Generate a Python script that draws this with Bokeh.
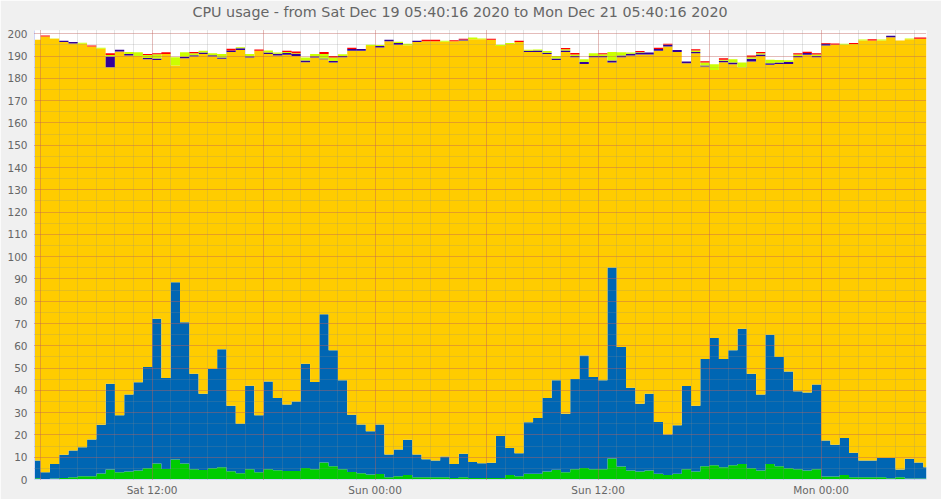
import numpy as np
import pandas as pd
from bokeh.plotting import figure
from bokeh.models import Range1d, FixedTicker, SingleIntervalTicker, Grid, Title
from bokeh.embed import file_html
from bokeh.resources import INLINE

title_text = "CPU usage - from Sat Dec 19 05:40:16 2020 to Mon Dec 21 05:40:16 2020"
start = pd.Timestamp("2020-12-19 05:40:16")
end = pd.Timestamp("2020-12-21 05:40:16")

# 30-minute samples (first and last are partial bins)
system = [0.6, 0.2, 0.5, 0.7, 1.0, 1.5, 1.5, 2.7, 4.5, 3.2, 3.6, 4.0, 5.1, 7.2, 4.7, 9.0, 7.2, 4.6, 4.3, 5.0,
          5.5, 3.7, 2.8, 4.6, 3.3, 4.6, 4.2, 3.8, 3.8, 5.2, 4.6, 7.6, 6.0, 4.6, 3.4, 2.8, 2.2, 2.5, 1.0, 1.5,
          2.0, 1.0, 1.0, 1.0, 1.0, 0.7, 1.0, 0.7, 0.7, 0.7, 0.7, 2.0, 1.5, 2.6, 2.6, 3.6, 4.4, 3.3, 4.6, 5.2,
          4.6, 4.6, 9.4, 5.8, 4.0, 3.6, 4.0, 2.6, 2.0, 2.6, 4.6, 3.6, 6.0, 6.4, 5.5, 6.4, 6.9, 5.0, 4.0, 6.9,
          6.0, 5.0, 4.6, 4.0, 4.6, 1.4, 1.4, 2.0, 1.0, 1.0, 1.0, 1.0, 0.6, 1.0, 0.4, 0.4, 0.4]
user = [7.9, 3.1, 6.5, 10.4, 12.0, 13.0, 16.5, 21.9, 38.5, 25.6, 34.5, 39.6, 45.4, 64.9, 40.8, 79.5, 63.4, 42.9, 34.2, 44.6,
        52.9, 29.4, 22.2, 37.5, 25.5, 39.4, 32.4, 29.9, 31.2, 46.8, 39.1, 66.6, 52.0, 39.9, 25.7, 21.9, 19.5, 22.2, 10.2, 12.0,
        15.8, 10.2, 8.1, 7.5, 9.3, 6.3, 10.5, 7.1, 6.6, 6.8, 18.8, 12.1, 10.3, 23.1, 25.0, 33.0, 40.1, 26.2, 40.5, 50.4,
        41.4, 39.9, 85.7, 53.7, 37.2, 30.4, 34.5, 23.2, 18.2, 21.7, 37.4, 29.5, 48.1, 57.1, 48.6, 51.6, 60.7, 42.5, 34.1, 58.1,
        49.0, 43.5, 35.0, 35.0, 38.0, 16.1, 14.2, 16.6, 11.0, 7.5, 7.5, 8.7, 9.1, 3.5, 8.9, 7.2, 5.1]
idle = [188.8, 195.5, 190.8, 185.2, 182.7, 181.0, 176.3, 168.7, 142.0, 163.3, 152.2, 146.5, 138.1, 116.2, 145.5, 97.3, 118.4, 142.3, 152.4, 140.2,
        130.4, 158.7, 167.8, 147.3, 163.6, 146.9, 153.7, 156.9, 155.1, 135.3, 145.7, 114.4, 129.1, 145.0, 163.3, 167.7, 172.9, 169.2, 185.5, 181.6,
        177.1, 185.1, 187.6, 188.2, 186.1, 189.7, 185.5, 189.8, 190.3, 189.8, 175.1, 181.3, 184.5, 166.1, 164.3, 154.3, 143.8, 162.4, 144.4, 130.9,
        143.5, 145.0, 92.0, 130.0, 149.1, 156.7, 152.2, 166.6, 174.1, 167.5, 144.8, 158.2, 131.2, 120.3, 133.2, 128.4, 117.4, 140.1, 152.0, 121.1,
        131.5, 138.0, 149.9, 151.6, 146.9, 177.3, 179.5, 176.5, 183.4, 188.5, 188.5, 187.3, 188.8, 192.5, 188.3, 190.2, 192.3]
iowait = [0, 0, 0, 0.6, 0.6, 0, 0, 0, 4.8, 0.75, 0.6, 0, 0.6, 0.6, 0, 0, 0.75, 0.6, 0.75, 0.6,
          0.6, 0.75, 0.75, 0.6, 0, 0.75, 0.75, 0.75, 0.9, 0.75, 0.6, 0.3, 0.75, 0.6, 0.75, 0.75, 0, 0.6, 0.6, 0.75,
          0, 0.6, 0, 0, 0, 0, 0.45, 0, 0, 0, 0, 0, 0, 0.6, 0.6, 0.6, 0.6, 0.6, 0.6, 0.9,
          0.6, 0.6, 0.9, 0.75, 0.75, 0.9, 0.9, 0.75, 0.75, 1.0, 0.75, 0.6, 0.45, 0, 0.6, 0.75, 0, 1.2, 0.6, 0.75,
          0.6, 0.9, 0.6, 0.75, 0.6, 0.75, 0, 0, 0, 0, 0, 0, 0.6, 0, 0, 0, 0]
softirq = [0, 0, 0.15, 0, 0, 0.45, 0, 0.45, 0.75, 0, 0.9, 1.6, 1.35, 1.95, 0, 3.7, 1.95, 0.9, 0.75, 0.9,
           1.5, 0, 0.45, 0.9, 0, 0.9, 0.6, 0.45, 0.3, 1.35, 1.0, 2.1, 1.5, 0.75, 0, 0, 0.45, 0.45, 0, 0.6,
           0.6, 0, 0, 0, 0.45, 0, 0, 0.75, 0.3, 0, 0.45, 0.45, 0, 0.45, 0.45, 0.75, 1.2, 0.6, 0.6, 1.2,
           1.2, 0.75, 3.9, 1.5, 0.6, 0.3, 0, 0, 0, 0, 0, 0.6, 1.35, 2.5, 0.5, 1.5, 2.1, 0.75, 0.6, 1.5,
           1.2, 0.75, 0.6, 0, 0.6, 0, 0, 0.45, 0, 0.45, 0, 0.45, 0, 0, 0.3, 0, 0]
steal = [0, 0.45, 0, 0, 0, 0, 0.45, 0, 0.75, 0, 0, 0, 0.45, 0.45, 0.75, 0, 0, 0.6, 0, 0,
         0, 0.75, 0, 0, 0.6, 0, 0, 0.6, 0.75, 0, 0, 0.9, 0.75, 0, 0.6, 0, 0, 0, 0, 0,
         0, 0, 0.6, 0.6, 0, 0.45, 0.3, 0, 0, 0.45, 0, 0, 0.6, 0, 0, 0, 0, 0.6, 0.75, 0,
         0, 0.45, 0, 0, 0, 0.45, 0, 0.6, 0.45, 0, 0, 0.6, 0.6, 0, 0.6, 0, 0, 0.75, 0.6, 0,
         0, 0, 0.6, 0.6, 0.6, 0.3, 0.6, 0, 0.45, 0, 0.6, 0, 0, 0, 0, 0.6, 0.6]

series_names = ["system", "user", "idle", "iowait", "softirq", "steal"]
series_colors = ["#00CC00", "#0066B3", "#FFCC00", "#330099", "#CCFF00", "#FF0000"]
x_tick_labels = ["Sat 12:00", "Sun 00:00", "Sun 12:00", "Mon 00:00"]
y_ticks = list(range(0, 201, 10))

def ms(ts):
    return pd.DatetimeIndex(ts).asi8 / 1e6

inner = pd.date_range("2020-12-19 06:00", "2020-12-21 05:30", freq="30min")
edges = np.concatenate([[start.value / 1e6], ms(inner), [end.value / 1e6]])
xs = np.repeat(edges, 2)[1:-1]

p = figure(width=941, height=499, output_backend="svg", toolbar_location=None,
           x_axis_type="datetime",
           x_range=Range1d(edges[0], edges[-1]), y_range=Range1d(0, 201.5),
           min_border_left=34, min_border_right=15, min_border_top=30, min_border_bottom=20,
           background_fill_color="#FFFFFF", border_fill_color="#F0F0F0", outline_line_color=None)

stack = [system, user, idle, iowait, softirq, steal]
base = np.zeros(len(system))
for vals, col in zip(stack, series_colors):
    top = base + np.array(vals, dtype=float)
    p.varea(x=xs, y1=np.repeat(base, 2), y2=np.repeat(top, 2), fill_color=col)
    base = top

p.xgrid.visible = False
p.ygrid.visible = False
MGRID = "rgba(230,70,60,0.5)"
GRID = "rgba(140,140,140,0.45)"
ygrid = Grid(dimension=1, ticker=SingleIntervalTicker(interval=10, num_minor_ticks=2),
             grid_line_color=MGRID, grid_line_dash="1 1", grid_line_width=1,
             minor_grid_line_color=GRID, minor_grid_line_dash="1 1", level="overlay")
six_h = ms(pd.date_range("2020-12-19 06:00", "2020-12-21 00:00", freq="6h"))
one_h = ms(pd.date_range("2020-12-19 06:00", "2020-12-21 05:00", freq="1h"))
xgrid = Grid(dimension=0, ticker=FixedTicker(ticks=list(six_h), minor_ticks=list(one_h)),
             grid_line_color=MGRID, grid_line_dash="1 1", grid_line_width=1,
             minor_grid_line_color=GRID, minor_grid_line_dash="1 1", level="overlay")
p.add_layout(ygrid)
p.add_layout(xgrid)

label_ts = ms(pd.to_datetime(["2020-12-19 12:00", "2020-12-20 00:00", "2020-12-20 12:00", "2020-12-21 00:00"]))
p.xaxis.ticker = FixedTicker(ticks=list(label_ts))
p.xaxis.major_label_overrides = {float(t): s for t, s in zip(label_ts, x_tick_labels)}
p.yaxis.ticker = FixedTicker(ticks=y_ticks)

for ax in (p.xaxis[0], p.yaxis[0]):
    ax.axis_line_color = "#CFD6F8"
    ax.major_tick_line_color = None
    ax.minor_tick_line_color = None
    ax.major_tick_out = 0
    ax.major_tick_in = 0
    ax.major_label_text_font = "DejaVu Sans"
    ax.major_label_text_font_size = "10.5px"
    ax.major_label_text_color = "#666666"
p.xaxis.major_label_standoff = 4
p.yaxis.major_label_standoff = 7

# spacer panel next to the frame, then the real title above it
p.add_layout(Title(text=" ", text_font_size="6px", standoff=3), "above")
p.add_layout(Title(text=title_text, align="left", offset=158, standoff=0,
                   text_font="DejaVu Sans", text_font_size="14.3px", text_font_style="normal",
                   text_color="#666666"), "above")

open("out.html", "w").write(file_html(p, INLINE))
